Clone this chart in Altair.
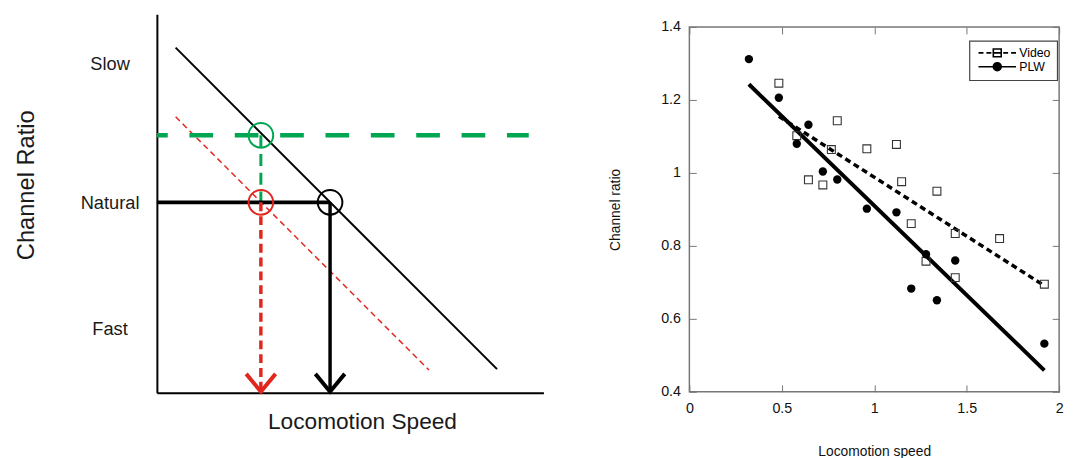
import altair as alt
import pandas as pd

FONT = "Liberation Sans"
INK = "#1a1a1a"
GREEN = "#00a651"
RED = "#e0261d"
FRAME = "#777777"
NO_FRAME = alt.ViewBackground(stroke="transparent", strokeWidth=0)

# ---------------- Left panel: schematic (arbitrary units 0-10) ----------------
level_names = ["Slow", "Natural", "Fast"]
level_values = [8.70, 5.03, 1.69]

fixed_fn_speed = [0.485, 8.80]
fixed_fn_ratio = [9.115, 0.625]
shifted_fn_speed = [0.485, 7.04]
shifted_fn_ratio = [7.29, 0.60]

green_h_speed = [0.0, 9.62]
green_h_ratio = [6.80, 6.80]
green_v_speed = [2.69, 2.69]
green_v_ratio = [6.80, 5.03]
natural_h_speed = [0.0, 4.48]
natural_h_ratio = [5.03, 5.03]
red_v_speed = [2.69, 2.69]
red_v_ratio = [5.03, 0.05]
black_v_speed = [4.48, 4.48]
black_v_ratio = [5.03, 0.05]
red_arrow_speed = [2.31, 2.69, 3.07]
red_arrow_ratio = [0.50, 0.03, 0.50]
black_arrow_speed = [4.10, 4.48, 4.86]
black_arrow_ratio = [0.50, 0.03, 0.50]

green_circle_speed = [2.69]
green_circle_ratio = [6.80]
red_circle_speed = [2.69]
red_circle_ratio = [5.03]
black_circle_speed = [4.48]
black_circle_ratio = [5.03]

# ---------------- Right panel: data ----------------
plw_speed = [0.322, 0.484, 0.581, 0.644, 0.722, 0.800, 0.960, 1.120, 1.200, 1.280, 1.339, 1.438, 1.920]
plw_ratio = [1.312, 1.206, 1.080, 1.132, 1.004, 0.982, 0.902, 0.892, 0.683, 0.777, 0.651, 0.760, 0.532]
video_speed = [0.484, 0.581, 0.644, 0.722, 0.768, 0.800, 0.960, 1.120, 1.148, 1.200, 1.280, 1.339, 1.438, 1.438, 1.678, 1.920]
video_ratio = [1.246, 1.102, 0.981, 0.967, 1.064, 1.143, 1.066, 1.078, 0.976, 0.861, 0.758, 0.950, 0.834, 0.713, 0.820, 0.695]
plw_fit_speed = [0.322, 1.920]
plw_fit_ratio = [1.243, 0.459]
video_fit_speed = [0.484, 1.920]
video_fit_ratio = [1.155, 0.691]
series_names = ["Video", "PLW"]
x_ticks = [0, 0.5, 1, 1.5, 2]
y_ticks = [0.4, 0.6, 0.8, 1.0, 1.2, 1.4]


def seg(xs, ys):
    return pd.DataFrame({"x": xs, "y": ys, "i": list(range(len(xs)))})


# ---------- left chart ----------
xs_l = alt.Scale(domain=[0, 10], nice=False, zero=False)
ys_l = alt.Scale(domain=[0, 10], nice=False, zero=False)

label_expr = ""
for v, n in zip(level_values, level_names):
    label_expr += f"datum.value == {v} ? '{n}' : "
label_expr += "''"

ax_lx = alt.Axis(title="Locomotion Speed", ticks=False, labels=False, grid=False,
                 domainColor="black", domainWidth=2, titleFontSize=23,
                 titleFontWeight="normal", titleColor=INK, titleX=208,
                 titleY=36, titleBaseline="alphabetic", titleFont=FONT)
ax_ly = alt.Axis(title="Channel Ratio", values=level_values, labelExpr=label_expr,
                 ticks=False, tickSize=0, labelPadding=48, labelAlign="center",
                 labelBaseline="middle", labelFontSize=18.5, labelColor=INK,
                 labelFont=FONT, domainColor="black", domainWidth=2, grid=False,
                 titleFontSize=24, titleFontWeight="normal", titleColor=INK,
                 titleX=-125, titleY=173, titleBaseline="alphabetic", titleFont=FONT)


def left_layer(xs, ys, mark_fn, **kw):
    return getattr(alt.Chart(seg(xs, ys)), mark_fn)(**kw).encode(
        x=alt.X("x:Q", scale=xs_l, axis=ax_lx),
        y=alt.Y("y:Q", scale=ys_l, axis=ax_ly),
        order="i:O",
    )


L = [
    left_layer(fixed_fn_speed, fixed_fn_ratio, "mark_line", color="black", strokeWidth=2),
    left_layer(shifted_fn_speed, shifted_fn_ratio, "mark_line", color=RED, strokeWidth=1.5,
               strokeDash=[6, 4]),
    left_layer(green_h_speed, green_h_ratio, "mark_line", color=GREEN, strokeWidth=4.5,
               strokeDash=[24, 22], strokeDashOffset=13),
    left_layer(green_v_speed, green_v_ratio, "mark_line", color=GREEN, strokeWidth=3,
               strokeDash=[12, 7]),
    left_layer(natural_h_speed, natural_h_ratio, "mark_line", color="black", strokeWidth=4),
    left_layer(red_v_speed, red_v_ratio, "mark_line", color=RED, strokeWidth=3.5,
               strokeDash=[9, 5]),
    left_layer(black_v_speed, black_v_ratio, "mark_line", color="black", strokeWidth=3.5),
    left_layer(red_arrow_speed, red_arrow_ratio, "mark_line", color=RED, strokeWidth=4),
    left_layer(black_arrow_speed, black_arrow_ratio, "mark_line", color="black", strokeWidth=4),
    left_layer(green_circle_speed, green_circle_ratio, "mark_point", shape="circle",
               filled=False, size=625, strokeWidth=2, color=GREEN, opacity=1),
    left_layer(red_circle_speed, red_circle_ratio, "mark_point", shape="circle",
               filled=False, size=625, strokeWidth=2, color=RED, opacity=1),
    left_layer(black_circle_speed, black_circle_ratio, "mark_point", shape="circle",
               filled=False, size=625, strokeWidth=2, color="black", opacity=1),
]

left = alt.layer(*L).properties(width=392, height=384, view=NO_FRAME)

# ---------- right chart ----------
xs_r = alt.Scale(domain=[0, 2], nice=False, zero=False)
ys_r = alt.Scale(domain=[0.4, 1.4], nice=False, zero=False)

ax_bottom = alt.Axis(orient="bottom", offset=-7, tickSize=7, tickColor=FRAME, tickWidth=1,
                     values=x_ticks, format="~g", domain=False, grid=False,
                     labelFontSize=14.5, labelColor="#111", labelPadding=10, labelFlush=False,
                     labelFont=FONT, title="Locomotion speed", titleFontSize=14,
                     titleFontWeight="normal", titleColor="#111", titleBaseline="alphabetic",
                     titleY=72, titleFont=FONT)
ax_top = alt.Axis(orient="top", offset=-7, tickSize=7, tickColor=FRAME, tickWidth=1,
                  values=x_ticks, labels=False, domain=False, grid=False, title=None)
ax_left = alt.Axis(orient="left", offset=-7, tickSize=7, tickColor=FRAME, tickWidth=1,
                   values=y_ticks, format="~g", domain=False, grid=False,
                   labelFontSize=14.5, labelColor="#111", labelPadding=9, labelFlush=False,
                   labelFont=FONT, title="Channel ratio", titleFontSize=14,
                   titleFontWeight="normal", titleColor="#111", titleBaseline="alphabetic",
                   titleX=-78, titleFont=FONT)
ax_right = alt.Axis(orient="right", offset=-7, tickSize=7, tickColor=FRAME, tickWidth=1,
                    values=y_ticks, labels=False, domain=False, grid=False, title=None)

plw_df = pd.DataFrame({"x": plw_speed, "y": plw_ratio, "series": "PLW"})
video_df = pd.DataFrame({"x": video_speed, "y": video_ratio, "series": "Video"})
all_df = pd.concat([video_df, plw_df], ignore_index=True)

video_fit = alt.Chart(seg(video_fit_speed, video_fit_ratio)).mark_line(
    color="black", strokeWidth=3.5, strokeDash=[6, 4]).encode(
    x=alt.X("x:Q", scale=xs_r, axis=None), y=alt.Y("y:Q", scale=ys_r, axis=None), order="i:O")
plw_fit = alt.Chart(seg(plw_fit_speed, plw_fit_ratio)).mark_line(
    color="black", strokeWidth=4).encode(
    x=alt.X("x:Q", scale=xs_r, axis=None), y=alt.Y("y:Q", scale=ys_r, axis=None), order="i:O")
video_pts = alt.Chart(video_df).mark_point(shape="square", filled=False, size=64, strokeWidth=1.1,
                                            color="#333333", opacity=1).encode(
    x=alt.X("x:Q", scale=xs_r, axis=ax_top), y=alt.Y("y:Q", scale=ys_r, axis=ax_right))
plw_pts = alt.Chart(plw_df).mark_circle(size=72, color="black", opacity=1).encode(
    x=alt.X("x:Q", scale=xs_r, axis=ax_bottom), y=alt.Y("y:Q", scale=ys_r, axis=ax_left))

video_symbol = ("M-3.8,0H-2.8M-2.2,0H-1.2M-0.8,-0.8H0.8V0.8H-0.8Z"
                "M-0.8,0H0.8M1.2,0H2.2M2.8,0H3.8")
plw_symbol = "M-3.8,0H3.8M0.8,0A0.8,0.8,0,1,1,-0.8,0A0.8,0.8,0,1,1,0.8,0Z"

legend = alt.Legend(title=None, orient="none", legendX=284, legendY=14, direction="vertical",
                    symbolSize=100, symbolStrokeWidth=1.6, symbolStrokeColor="black",
                    symbolOffset=16, labelOffset=16, labelFontSize=12.5, labelColor="black",
                    labelFont=FONT, strokeColor="#444444", padding=6, rowPadding=-1.2,
                    symbolOpacity=1, fillColor="white")
carrier = alt.Chart(all_df).mark_point(filled=True, opacity=0, size=100).encode(
    x=alt.X("x:Q", scale=xs_r, axis=None), y=alt.Y("y:Q", scale=ys_r, axis=None),
    shape=alt.Shape("series:N", scale=alt.Scale(domain=series_names, range=[video_symbol, plw_symbol]), legend=legend),
    fill=alt.Fill("series:N", scale=alt.Scale(domain=series_names, range=["white", "black"]), legend=legend),
    stroke=alt.Stroke("series:N", scale=alt.Scale(domain=series_names, range=["black", "black"]), legend=legend),
)

right = alt.layer(video_fit, plw_fit, video_pts, plw_pts, carrier).resolve_axis(
    x="independent", y="independent").properties(
    width=375, height=370,
    view=alt.ViewBackground(stroke=FRAME, strokeWidth=1.5),
)

# empty band that lowers the scatter panel relative to the schematic
spacer = alt.Chart(pd.DataFrame({"s": [0]})).mark_point(opacity=0).encode(
    x=alt.X("s:Q", axis=None), y=alt.Y("s:Q", axis=None)).properties(
    width=375, height=1, view=NO_FRAME)

right_col = alt.vconcat(spacer, right, spacing=0).resolve_legend(
    shape="independent", fill="independent", stroke="independent")

chart = alt.hconcat(left, right_col, spacing=65).resolve_legend(
    shape="independent", fill="independent", stroke="independent").properties(
    padding={"left": 7, "top": 0, "right": 5, "bottom": 5}
).configure_view(stroke="transparent").configure(font=FONT).configure_legend(strokeWidth=1.2)

chart.save("out.html", embed_options={"renderer": "svg", "actions": False})
